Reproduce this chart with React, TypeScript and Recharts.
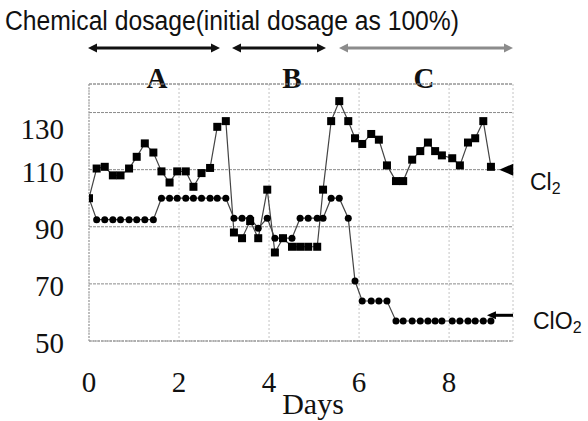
import { LineChart, Line, XAxis, YAxis, CartesianGrid, ReferenceLine, ReferenceDot, Customized } from 'recharts';

// sampling times (days), shared by both series
const days = [
  0, 0.17, 0.35, 0.53, 0.7, 0.89, 1.06, 1.24, 1.43, 1.61, 1.79, 1.96, 2.15, 2.32, 2.5, 2.69, 2.85,
  3.04, 3.22, 3.4, 3.58, 3.76, 3.96, 4.13, 4.31, 4.51, 4.69, 4.87, 5.07, 5.2, 5.38, 5.56, 5.76,
  5.91, 6.07, 6.27, 6.44, 6.62, 6.82, 6.98, 7.18, 7.36, 7.53, 7.69, 7.84, 8.07, 8.24, 8.42, 8.58,
  8.76, 8.93,
];

const cl2 = [
  100, 110.4, 111, 108, 108, 110.4, 114.5, 119.2, 116, 109.4, 105.5, 109.4, 109.4, 104, 108.8, 110.6,
  125, 127, 88, 86, 92, 86, 103, 81, 86, 83, 83, 83, 83, 103, 127, 134, 127, 121, 119, 122.5, 120.5,
  111.5, 106, 106, 113.5, 116.5, 119.5, 116.5, 115, 114, 111.5, 119.5, 121, 127, 111,
];

const clo2 = [
  100, 92.5, 92.5, 92.5, 92.5, 92.5, 92.5, 92.5, 92.5, 100, 100, 100, 100, 100, 100, 100, 100, 100,
  93, 93, 93, 89.5, 93, 86, 86, 86, 93, 93, 93, 93, 100, 100, 93, 71, 64, 64, 64, 64,
  57, 57, 57, 57, 57, 57, 57, 57, 57, 57, 57, 57, 57,
];

const dayTicks = [0, 2, 4, 6, 8];
const dosageTicks = [50, 70, 90, 110, 130];

// end markers pointing at the series names
const cl2Pointer = { day: 9.27, value: 110 };
const clo2Pointer = { from: 8.93, to: 9.42, value: 59 };

const chartData = days.map((d, i) => ({ day: d, cl2: cl2[i], clo2: clo2[i] }));

const SERIF = "'Liberation Serif', 'Times New Roman', serif";
const SANS = "'Liberation Sans', Arial, sans-serif";

function SquareDot(props: any) {
  const { cx, cy, index } = props;
  return <rect key={`s${index}`} x={cx - 4} y={cy - 4} width={8} height={8} fill="#000" />;
}

function RoundDot(props: any) {
  const { cx, cy, index } = props;
  return <circle key={`c${index}`} cx={cx} cy={cy} r={3.5} fill="#000" />;
}

function LeftTriangle(props: any) {
  const { cx, cy } = props;
  return <polygon points={`${cx - 7},${cy} ${cx + 7},${cy - 6} ${cx + 7},${cy + 6}`} fill="#000" />;
}

function SmallLeftTriangle(props: any) {
  const { cx, cy } = props;
  return <polygon points={`${cx - 4},${cy} ${cx + 5},${cy - 4} ${cx + 5},${cy + 4}`} fill="#000" />;
}

function YTick(props: any) {
  const { x, y, payload } = props;
  const shift = payload.value === 130 ? 16 : 2;
  return (
    <text x={x} y={y + shift} textAnchor="end" dominantBaseline="central" fontFamily={SERIF} fontSize={29} fill="#111">
      {payload.value}
    </text>
  );
}

function PeriodArrow({ x1, x2, y, color }: { x1: number; x2: number; y: number; color: string }) {
  return (
    <g>
      <line x1={x1 + 6} x2={x2 - 6} y1={y} y2={y} stroke={color} strokeWidth={3} />
      <polygon points={`${x1},${y} ${x1 + 9},${y - 4.5} ${x1 + 9},${y + 4.5}`} fill={color} />
      <polygon points={`${x2},${y} ${x2 - 9},${y - 4.5} ${x2 - 9},${y + 4.5}`} fill={color} />
    </g>
  );
}

function Annotations() {
  return (
    <g>
      <text x={5} y={30} fontFamily={SANS} fontSize={27} fill="#111" textLength={454} lengthAdjust="spacingAndGlyphs">
        Chemical dosage(initial dosage as 100%)
      </text>
      <PeriodArrow x1={88} x2={220} y={48} color="#111" />
      <PeriodArrow x1={232} x2={326} y={48} color="#111" />
      <PeriodArrow x1={339} x2={513} y={48} color="#8c8c8c" />
      <text x={157} y={88} textAnchor="middle" fontFamily={SERIF} fontWeight="bold" fontSize={29} fill="#111">A</text>
      <text x={292} y={88} textAnchor="middle" fontFamily={SERIF} fontWeight="bold" fontSize={29} fill="#111">B</text>
      <text x={424} y={88} textAnchor="middle" fontFamily={SERIF} fontWeight="bold" fontSize={29} fill="#111">C</text>
      <text x={313} y={414} textAnchor="middle" fontFamily={SERIF} fontSize={30} fill="#111">Days</text>
      <text x={530} y={190} fontFamily={SANS} fontSize={23} fill="#111">
        Cl<tspan fontSize={16} dy={4}>2</tspan>
      </text>
      <text x={533} y={329} fontFamily={SANS} fontSize={23} fill="#111">
        ClO<tspan fontSize={16} dy={4}>2</tspan>
      </text>
    </g>
  );
}

export default function App() {
  return (
    <div style={{ position: 'absolute', left: 0, top: 0, width: 588, height: 421, background: '#fff' }}>
      <LineChart width={588} height={421} data={chartData} margin={{ top: 84, right: 75, bottom: 0, left: 0 }}>
        <CartesianGrid horizontal={false} stroke="#c4c4c4" strokeDasharray="2 2" />
        <CartesianGrid vertical={false} stroke="#8a8a8a" strokeDasharray="3 1" />
        <XAxis
          type="number"
          dataKey="day"
          domain={[0, 9.42]}
          ticks={dayTicks}
          allowDataOverflow
          height={80}
          axisLine={{ stroke: '#999', strokeDasharray: '2 1' }}
          tickLine={false}
          tickSize={0}
          tickMargin={30}
          tick={{ fontFamily: SERIF, fontSize: 29, fill: '#111' }}
        />
        <YAxis
          domain={[50, 140]}
          ticks={dosageTicks}
          allowDataOverflow
          width={89}
          axisLine={{ stroke: '#999', strokeDasharray: '2 1' }}
          tickLine={false}
          tickSize={0}
          tickMargin={25}
          tick={YTick}
        />
        <ReferenceLine y={140} stroke="#9a9a9a" strokeDasharray="3 1" />
        <Line
          type="linear"
          dataKey="cl2"
          stroke="#444"
          strokeWidth={1.2}
          dot={SquareDot}
          activeDot={false}
          isAnimationActive={false}
        />
        <Line
          type="linear"
          dataKey="clo2"
          stroke="#444"
          strokeWidth={1.2}
          dot={RoundDot}
          activeDot={false}
          isAnimationActive={false}
        />
        <ReferenceDot x={cl2Pointer.day} y={cl2Pointer.value} shape={LeftTriangle} ifOverflow="visible" />
        <ReferenceLine
          segment={[
            { x: clo2Pointer.from, y: clo2Pointer.value },
            { x: clo2Pointer.to, y: clo2Pointer.value },
          ]}
          stroke="#000"
          strokeWidth={3}
          ifOverflow="visible"
        />
        <ReferenceDot x={clo2Pointer.from} y={clo2Pointer.value} shape={SmallLeftTriangle} ifOverflow="visible" />
        <Customized component={Annotations} />
      </LineChart>
    </div>
  );
}
